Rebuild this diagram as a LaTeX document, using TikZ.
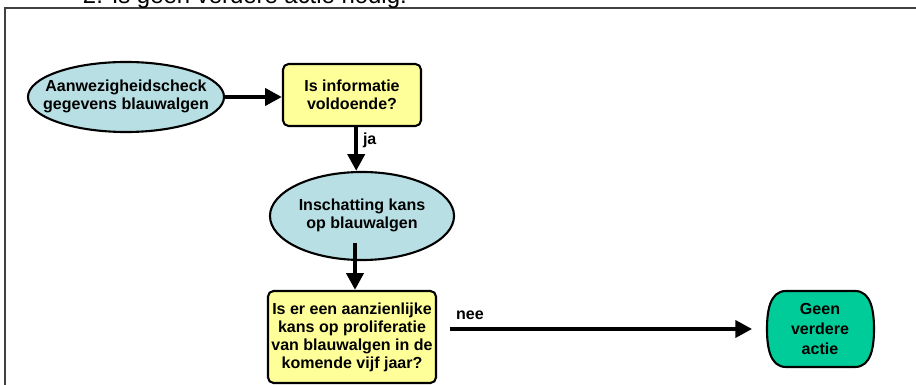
\documentclass[tikz,border=0pt]{standalone}
\usepackage{fontspec}
\setmainfont{Liberation Sans}
\usetikzlibrary{arrows.meta,shapes.geometric}
\definecolor{algblauw}{HTML}{B8DFE3}
\definecolor{alggeel}{HTML}{FFFF99}
\definecolor{alggroen}{HTML}{00CC99}
\newcommand{\nulbreed}[1]{\makebox[0pt]{\begin{tabular}{@{}c@{}}#1\end{tabular}}}

\begin{document}
\begin{tikzpicture}[x=0.025cm, y=-0.025cm,
    tekst/.style={font=\fontsize{11.4}{12.8}\selectfont\bfseries, align=center},
    ovaal/.style={tekst, ellipse, draw, line width=1.5pt, fill=algblauw, inner sep=0pt},
    vraag/.style={tekst, rectangle, draw, rounded corners=4pt, line width=1.5pt, fill=alggeel, inner sep=0pt},
    pijl/.style={line width=3pt, -{Triangle[length=12pt, width=12pt]}}]
    \useasboundingbox (0,0) rectangle (916,385);
    \draw[line width=0.8pt, black!75] (5,385) -- (5,8) -- (916,8);
    \node[anchor=base west, font=\fontsize{17}{20}\selectfont] (titel) at (78,3.5) {2. Is geen verdere actie nodig.};

    \node[ovaal, minimum width=4.9cm, minimum height=1.75cm] (check) at (126,97)
        {\nulbreed{Aanwezigheidscheck\\gegevens blauwalgen}};
    \node[vraag, minimum width=3.45cm, minimum height=1.55cm] (info) at (352,95)
        {Is informatie\\voldoende?};
    \node[ovaal, minimum width=4.6cm, minimum height=2.2cm] (kans) at (362,216)
        {\nulbreed{Inschatting kans\\op blauwalgen}};
    \node[vraag, minimum width=4.2cm, minimum height=2.3cm] (proliferatie) at (352,337)
        {Is er een aanzienlijke\\kans op proliferatie\\van blauwalgen in de\\komende vijf jaar?};
    \draw[line width=1.5pt, fill=alggroen]
        (786,291) -- (855,291) to[out=0, in=90] (874,329) to[out=-90, in=0] (855,367)
        -- (786,367) to[out=180, in=-90] (767,329) to[out=90, in=180] (786,291) -- cycle;
    \node[tekst, font=\fontsize{11.4}{14}\selectfont\bfseries, minimum width=2.675cm, minimum height=1.9cm, inner sep=0pt] (geen) at (820,329)
        {Geen\\verdere\\actie};

    \coordinate (kans-uit) at (355,243);
    \draw[pijl] (check.east) -- (check.east -| info.west);
    \draw[pijl] ([xshift=3]info.south) -- ([xshift=3]info.south |- kans.north)
        node[tekst, pos=0.3, right] (ja) {ja};
    \draw[pijl] (kans-uit) -- (kans-uit |- proliferatie.north);
    \draw[pijl, shorten <=9, shorten >=10] (proliferatie.east |- geen.west) -- (geen.west)
        node[tekst, pos=0.1, above, yshift=2pt] (nee) {nee};
\end{tikzpicture}
\end{document}
